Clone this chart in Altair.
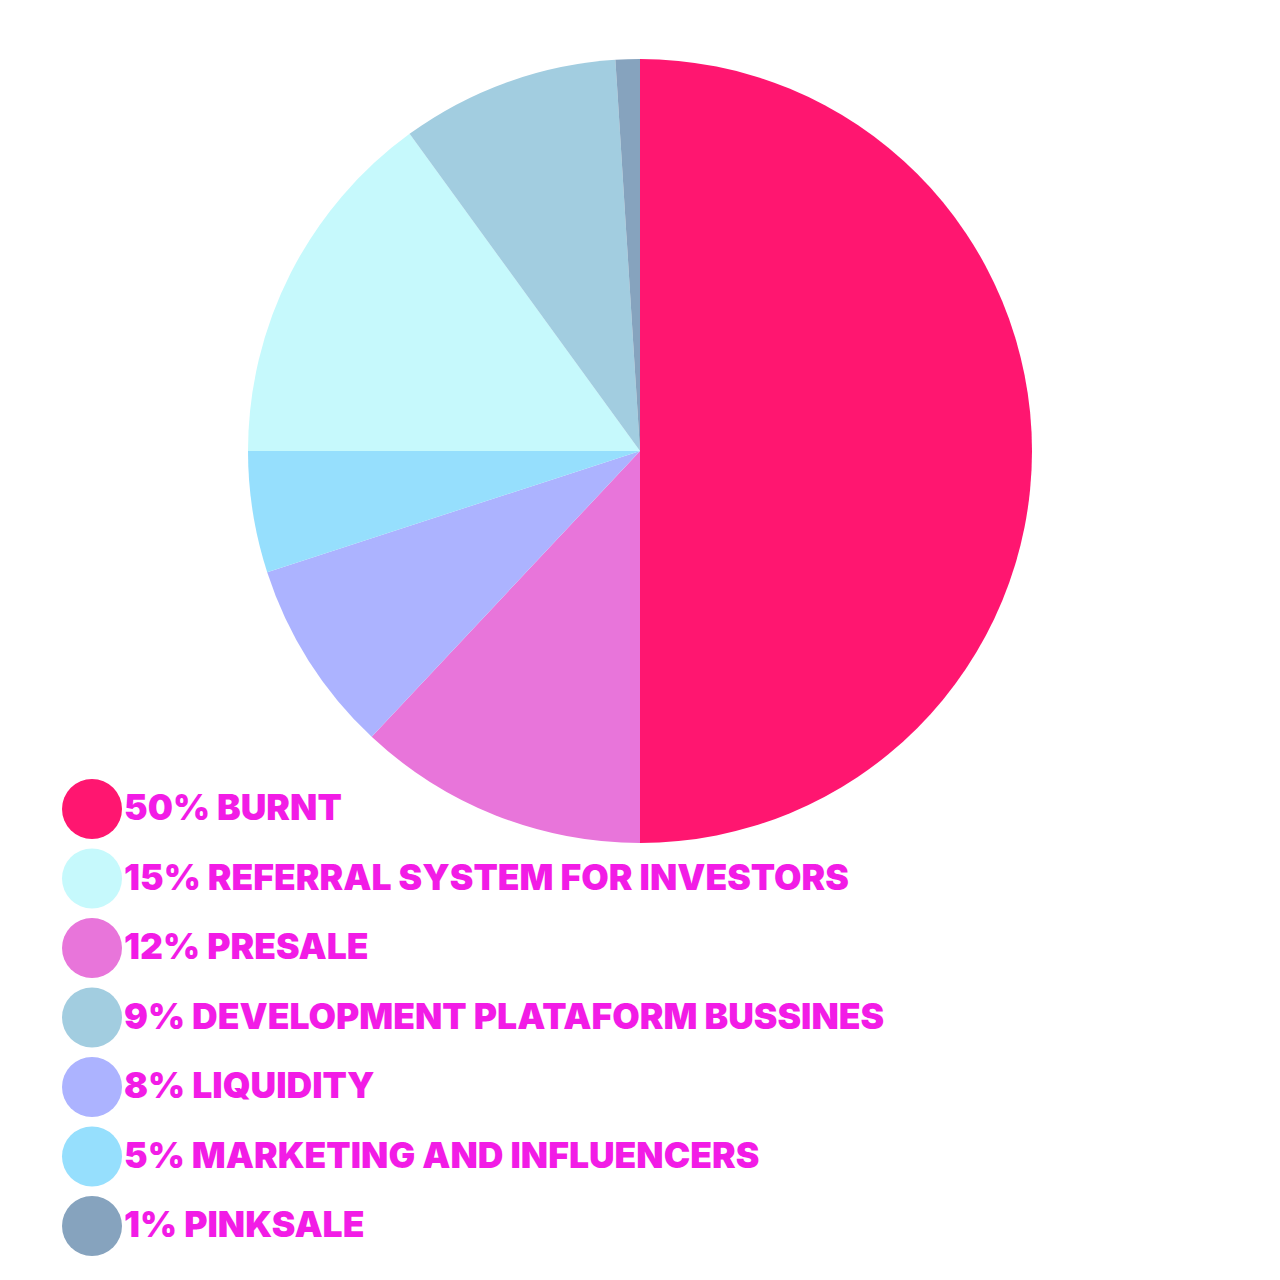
import altair as alt
import pandas as pd

labels = [
    "50% BURNT",
    "15% REFERRAL SYSTEM FOR INVESTORS",
    "12% PRESALE",
    "9% DEVELOPMENT PLATAFORM BUSSINES",
    "8% LIQUIDITY",
    "5% MARKETING AND INFLUENCERS",
    "1% PINKSALE",
]
values = [50, 15, 12, 9, 8, 5, 1]
pie_order = [0, 4, 1, 5, 2, 3, 6]  # clockwise from 12 o'clock
colors = ["#FF1670", "#C6F9FC", "#E875DA", "#A2CDE0", "#ACB3FF", "#96DFFD", "#86A3BE"]

df = pd.DataFrame({"label": labels, "value": values, "order": pie_order})

chart = (
    alt.Chart(df)
    .mark_arc(radius=392, stroke=None)
    .encode(
        theta=alt.Theta("value:Q", stack=True),
        order=alt.Order("order:Q", sort="ascending"),
        color=alt.Color(
            "label:N",
            scale=alt.Scale(domain=labels, range=colors),
            legend=alt.Legend(
                title=None,
                orient="none",
                legendX=62,
                legendY=779,
                symbolType="circle",
                symbolSize=3600,
                symbolStrokeWidth=0,
                symbolOpacity=1,
                labelFont="Inter",
                labelFontWeight=900,
                labelFontSize=35.5,
                labelColor="#F21CE6",
                labelOffset=2,
                labelLimit=0,
                rowPadding=9.5,
                padding=0,
            ),
        ),
        x=alt.value(640),
        y=alt.value(451),
    )
    .properties(width=1280, height=1280, padding=0, autosize="none")
    .configure_view(stroke=None)
)

chart.save("out.html", embed_options={"renderer": "svg", "actions": False})
